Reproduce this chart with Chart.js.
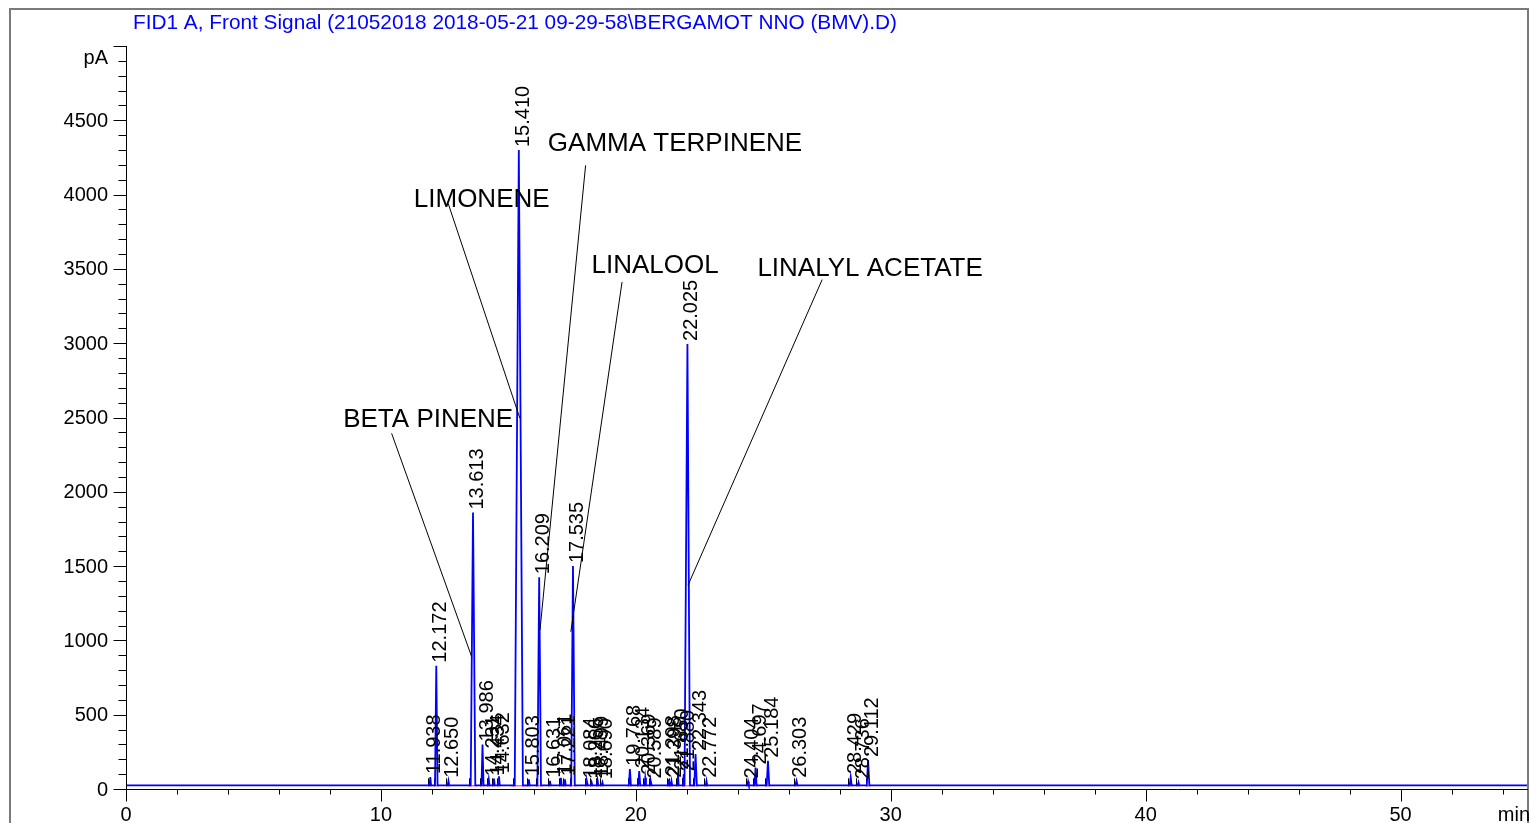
<!DOCTYPE html>
<html lang="en">
<head>
    <meta charset="UTF-8">
    <title>FID1 A, Front Signal - BERGAMOT NNO (BMV)</title>
    <script src="https://cdn.jsdelivr.net/npm/chart.js"></script>
    <style>
        body { margin: 0; background: #fff; }
        #wrap { width: 1531px; height: 823px; position: relative; }
    </style>
</head>
<body>
    <div id="wrap">
        <canvas id="chromChart" width="1531" height="823"></canvas>
    </div>

    <script>
        // chromatogram values (min, pA)
        const peakTimes = [11.938, 12.172, 12.650, 13.613, 13.986, 14.231, 14.434, 14.632, 15.410, 15.803,
                           16.209, 16.631, 17.061, 17.221, 17.535, 18.084, 18.266, 18.499, 18.690, 19.768,
                           20.134, 20.369, 20.589, 21.298, 21.398, 21.650, 21.880, 22.025, 22.343, 22.772,
                           24.404, 24.697, 25.184, 26.303, 28.429, 28.736, 29.112];
        const peakHeights = [80, 830, 55, 1860, 300, 65, 70, 85, 4300, 65,
                             1425, 55, 75, 65, 1500, 50, 45, 60, 45, 135,
                             120, 75, 50, 65, 55, 110, 100, 2995, 235, 55,
                             50, 145, 190, 55, 80, 45, 195];
        const peakHalfWidths = [0.03, 0.05, 0.03, 0.09, 0.04, 0.03, 0.03, 0.03, 0.16, 0.03,
                                0.07, 0.03, 0.03, 0.03, 0.07, 0.03, 0.03, 0.03, 0.03, 0.04,
                                0.04, 0.03, 0.03, 0.03, 0.03, 0.03, 0.03, 0.1, 0.05, 0.03,
                                0.03, 0.04, 0.05, 0.04, 0.04, 0.03, 0.05];
        const baselineLevel = 25;
        const runStart = 0;
        const runEnd = 55;

        const xTicksMajor = [0, 10, 20, 30, 40, 50];
        const yTicksMajor = [0, 500, 1000, 1500, 2000, 2500, 3000, 3500, 4000, 4500, 5000];
        const yTickLabels = ['0', '500', '1000', '1500', '2000', '2500', '3000', '3500', '4000', '4500'];

        const compoundNames = ['BETA PINENE', 'LIMONENE', 'GAMMA TERPINENE', 'LINALOOL', 'LINALYL ACETATE'];

        const titleText = 'FID1 A, Front Signal (21052018 2018-05-21 09-29-58\\BERGAMOT NNO (BMV).D)';

        // where the compound names sit and where their leader lines point (data coords)
        const nameLayout = [
            { text: [8.52, 2435], from: [10.42, 2393], to: [13.56, 890] },
            { text: [11.29, 3915], from: [12.64, 3940], to: [15.45, 2496] },
            { text: [16.55, 4291], from: [18.03, 4197], to: [16.24, 1069] },
            { text: [18.26, 3471], from: [19.46, 3412], to: [17.45, 1058] },
            { text: [24.77, 3451], from: [27.31, 3428], to: [22.05, 1372] }
        ];

        const FONT = '"Liberation Sans", Arial, sans-serif';

        // build the trace from the peak table
        const trace = [{ x: runStart, y: baselineLevel }];
        peakTimes.forEach((t, i) => {
            trace.push({ x: t - peakHalfWidths[i], y: baselineLevel });
            trace.push({ x: t, y: peakHeights[i] });
            trace.push({ x: t + peakHalfWidths[i], y: baselineLevel });
        });
        trace.push({ x: runEnd, y: baselineLevel });

        const backdrop = {
            id: 'backdrop',
            beforeDraw(chart) {
                const ctx = chart.ctx;
                ctx.save();
                ctx.fillStyle = '#fff';
                ctx.fillRect(0, 0, chart.width, chart.height);
                ctx.restore();
            },
            beforeDatasetsDraw(chart) {
                // integration baselines (magenta) and peak start marks
                const ctx = chart.ctx;
                const xs = chart.scales.x, ys = chart.scales.y;
                const yb = ys.getPixelForValue(baselineLevel);
                ctx.save();
                ctx.strokeStyle = '#ff00ff';
                ctx.lineWidth = 1;
                peakTimes.forEach((t, i) => {
                    ctx.beginPath();
                    ctx.moveTo(xs.getPixelForValue(t - 2 * peakHalfWidths[i]), yb + 0.5);
                    ctx.lineTo(xs.getPixelForValue(t + 2 * peakHalfWidths[i]), yb + 0.5);
                    ctx.stroke();
                });
                ctx.strokeStyle = '#000';
                peakTimes.forEach((t, i) => {
                    const px = Math.round(xs.getPixelForValue(t - peakHalfWidths[i] - 0.05)) + 0.5;
                    ctx.beginPath();
                    ctx.moveTo(px, yb + 1);
                    ctx.lineTo(px, yb - 7);
                    ctx.stroke();
                });
                ctx.restore();
            }
        };

        const decorations = {
            id: 'decorations',
            afterDraw(chart) {
                const ctx = chart.ctx;
                const xs = chart.scales.x, ys = chart.scales.y;
                const area = chart.chartArea;
                ctx.save();

                // outer frame
                ctx.strokeStyle = '#7a7a7a';
                ctx.lineWidth = 2;
                ctx.beginPath();
                ctx.moveTo(10, chart.height);
                ctx.lineTo(10, 9);
                ctx.lineTo(area.right, 9);
                ctx.lineTo(area.right, chart.height);
                ctx.stroke();

                // title
                ctx.fillStyle = '#0000ff';
                ctx.font = '20.8px ' + FONT;
                ctx.textAlign = 'left';
                ctx.textBaseline = 'alphabetic';
                ctx.fillText(titleText, 133, 29);

                // axes
                ctx.strokeStyle = '#000';
                ctx.lineWidth = 1;
                const x0 = Math.round(area.left) + 0.5;
                const y0 = Math.round(area.bottom) + 0.5;
                ctx.beginPath();
                ctx.moveTo(x0, Math.round(area.top));
                ctx.lineTo(x0, y0);
                ctx.lineTo(area.right, y0);
                ctx.stroke();

                // y ticks: minor every 100, major every 500
                for (let v = 0; v <= 5000; v += 100) {
                    const py = Math.round(ys.getPixelForValue(v)) + 0.5;
                    const len = yTicksMajor.includes(v) ? 13 : 8;
                    ctx.beginPath();
                    ctx.moveTo(x0 - len, py);
                    ctx.lineTo(x0, py);
                    ctx.stroke();
                }
                ctx.fillStyle = '#000';
                ctx.font = '20px ' + FONT;
                ctx.textAlign = 'right';
                ctx.textBaseline = 'middle';
                yTickLabels.forEach((lab, i) => {
                    ctx.fillText(lab, 108, ys.getPixelForValue(yTicksMajor[i]) + 1);
                });
                ctx.textBaseline = 'alphabetic';
                ctx.fillText('pA', 108, 64);

                // x ticks: minor every 2 min, major every 10
                for (let t = 0; t <= 54; t += 2) {
                    const px = Math.round(xs.getPixelForValue(t)) + 0.5;
                    const len = xTicksMajor.includes(t) ? 12 : 5;
                    ctx.beginPath();
                    ctx.moveTo(px, y0);
                    ctx.lineTo(px, y0 + len);
                    ctx.stroke();
                }
                ctx.textAlign = 'center';
                ctx.textBaseline = 'alphabetic';
                xTicksMajor.forEach(t => {
                    ctx.fillText(String(t), xs.getPixelForValue(t), 821);
                });
                ctx.textAlign = 'right';
                ctx.fillText('min', area.right + 2, 821);

                // retention time labels, rotated, starting just above each apex
                ctx.font = '20px ' + FONT;
                ctx.textAlign = 'left';
                ctx.textBaseline = 'alphabetic';
                peakTimes.forEach((t, i) => {
                    const px = xs.getPixelForValue(t);
                    const py = ys.getPixelForValue(peakHeights[i]);
                    ctx.save();
                    ctx.translate(px + 10, py - 3);
                    ctx.rotate(-Math.PI / 2);
                    ctx.fillText(t.toFixed(3), 0, 0);
                    ctx.restore();
                });

                // compound names with leader lines
                ctx.font = '26px ' + FONT;
                ctx.textAlign = 'left';
                ctx.lineWidth = 1;
                compoundNames.forEach((name, i) => {
                    const L = nameLayout[i];
                    ctx.beginPath();
                    ctx.moveTo(xs.getPixelForValue(L.from[0]), ys.getPixelForValue(L.from[1]));
                    ctx.lineTo(xs.getPixelForValue(L.to[0]), ys.getPixelForValue(L.to[1]));
                    ctx.stroke();
                    ctx.fillText(name, xs.getPixelForValue(L.text[0]), ys.getPixelForValue(L.text[1]));
                });

                ctx.restore();
            }
        };

        const chromChart = new Chart(document.getElementById('chromChart'), {
            type: 'line',
            data: {
                datasets: [{
                    label: 'FID1 A',
                    data: trace,
                    borderColor: '#0000ff',
                    borderWidth: 1.8,
                    pointRadius: 0,
                    tension: 0,
                    fill: false
                }]
            },
            options: {
                responsive: false,
                animation: false,
                layout: { padding: { left: 126, top: 46, right: 3, bottom: 34 } },
                plugins: {
                    legend: { display: false },
                    tooltip: { enabled: false },
                    title: { display: false }
                },
                scales: {
                    x: { type: 'linear', min: runStart, max: runEnd, display: false },
                    y: { type: 'linear', min: 0, max: 5000, display: false }
                }
            },
            plugins: [backdrop, decorations]
        });
    </script>
</body>
</html>
